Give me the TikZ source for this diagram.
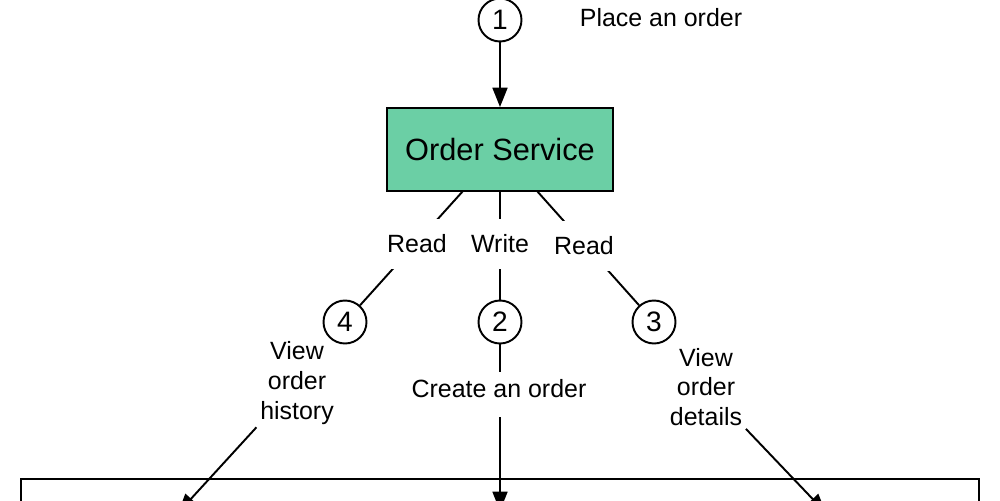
\documentclass[tikz,border=0pt]{standalone}
\usepackage{fontspec}
\setmainfont{Liberation Sans}
\usetikzlibrary{arrows.meta}
\definecolor{osgreen}{HTML}{6BCFA5}
\tikzset{
  ln/.style={line width=1.1pt, draw=black},
  arr/.style={ln, -{Triangle[width=8.5pt,length=11pt]}},
  num/.style={circle, ln, minimum size=0.86cm, inner sep=0pt, font=\fontsize{16}{18}\selectfont},
  lbl/.style={font=\fontsize{14.2}{17}\selectfont, align=center, inner sep=2pt},
  gap/.style={lbl, fill=white, minimum height=1cm},
}
\begin{document}
\begin{tikzpicture}[x=0.02cm,y=-0.02cm]
\useasboundingbox (0,0) rectangle (1000,500);
\clip (0,0) rectangle (1000,500);

% nodes
\node[num] (c1) at (500,20) {1};
\node[lbl] (place) at (661,18) {Place an order};
\node[draw=black, line width=1.1pt, fill=osgreen, minimum width=4.52cm, minimum height=1.66cm,
      font=\fontsize{17.5}{20}\selectfont] (os) at (500,149.5) {Order Service};
\node[num] (c4) at (345,322) {4};
\node[num] (c2) at (500,322) {2};
\node[num] (c3) at (654,322) {3};
\node[ln, draw, minimum width=19.16cm, minimum height=1.62cm] (db) at (500,519.5) {};

\coordinate (osL) at (463,191);
\coordinate (osR) at (537,191);
\coordinate (cr1) at (500,372);
\coordinate (cr2) at (500,417);
\coordinate (t2) at (500,511);
\coordinate (t4) at (178,513);
\coordinate (t3) at (826,513);

% connectors
\draw[arr] (c1) -- (os);
\draw[ln] (osL) -- (c4);
\draw[ln] (os.south) -- (c2);
\draw[ln] (osR) -- (c3);
\draw[ln] (c2) -- (cr1);
\draw[arr] (cr2) -- (t2);

% labels over the lines
\node[gap] (rd1) at (417,244) {Read};
\node[gap] (wr) at (500,244) {Write};
\node[gap] (rd2) at (584,246) {Read};
\node[lbl] (cr) at (499,389) {Create an order};
\node[lbl] (v4) at (297,383) {View\\order\\history};
\node[lbl] (v3) at (706,387) {View\\order\\details};

\draw[arr] (v4) -- (t4);
\draw[arr] (v3) -- (t3);
\end{tikzpicture}
\end{document}
